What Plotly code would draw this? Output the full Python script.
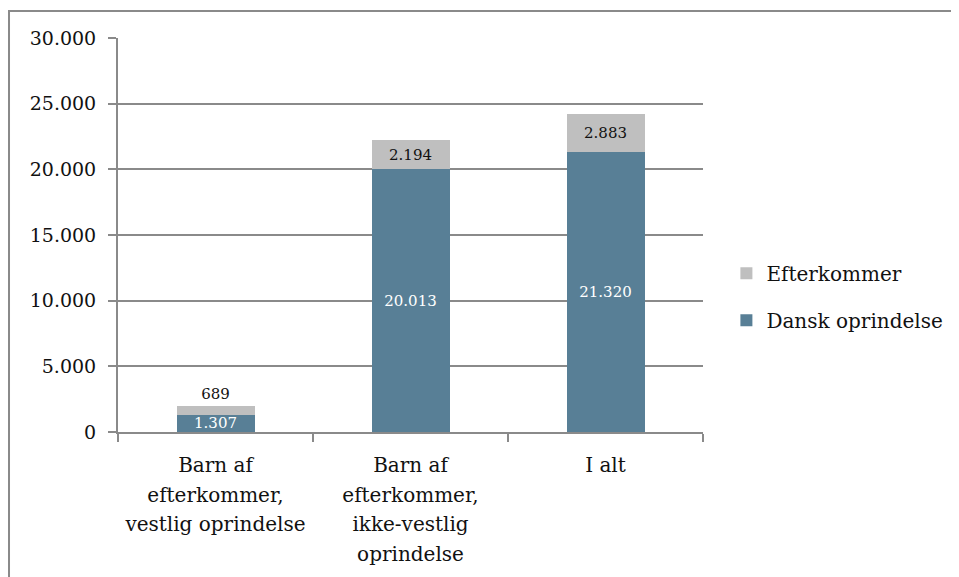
import plotly.graph_objects as go

categories = [
    "Barn af<br>efterkommer,<br>vestlig oprindelse",
    "Barn af<br>efterkommer,<br>ikke-vestlig<br>oprindelse",
    "I alt",
]
dansk = [1307, 20013, 21320]
efterkommer = [689, 2194, 2883]
y_ticks = [0, 5000, 10000, 15000, 20000, 25000, 30000]

BLUE = "#587f96"
GREY = "#bfbfbf"
FONT = "DejaVu Serif"


def small_lines(label, px=20):
    # keep glyphs small but let the (bigger) tick font set the line spacing
    return "<br>".join(f"<span style='font-size:{px}px'>{p}</span>" for p in label.split("<br>"))


fig = go.Figure()
fig.add_trace(go.Bar(
    x=categories, y=dansk, name="Dansk oprindelse",
    marker=dict(color=BLUE, line=dict(width=0)),
    texttemplate="%{y:,}", textposition="inside", insidetextanchor="middle",
    textfont=dict(color="white", size=15, family=FONT),
    legendgroup="a", legendrank=2,
))
fig.add_trace(go.Bar(
    x=categories, y=efterkommer, name="Efterkommer",
    marker=dict(color=GREY, line=dict(width=0)),
    texttemplate="%{y:,}", textposition=["outside", "inside", "inside"],
    insidetextanchor="middle",
    textfont=dict(color="#111111", size=15, family=FONT),
    legendgroup="b", legendrank=1,
))

# outer frame of the chart object (partly off-page like the original)
fig.add_shape(type="rect", xref="paper", yref="paper",
              x0=-0.1863, x1=1.6, y0=-0.6, y1=1.0685,
              line=dict(color="#8a8a8a", width=2), layer="below")

fig.update_layout(
    width=959, height=577,
    margin=dict(l=110, r=264, t=30, b=153),
    barmode="stack", bargap=0.6,
    separators=",.",
    font=dict(family=FONT, size=19, color="#111111"),
    plot_bgcolor="white", paper_bgcolor="white",
    uniformtext=dict(minsize=15, mode="show"),
    showlegend=True,
    legend=dict(x=1.04, y=0.343, yanchor="middle", xanchor="left",
                traceorder="grouped", tracegroupgap=18,
                font=dict(size=20, family=FONT), itemwidth=30),
)
fig.update_xaxes(
    tickvals=categories, ticktext=[small_lines(c) for c in categories],
    tickangle=0, automargin=False, ticklabelstandoff=10,
    showline=True, linecolor="#8a8a8a", linewidth=2,
    ticks="outside", tickson="boundaries", ticklen=8, tickcolor="#8a8a8a", tickwidth=2,
    tickfont=dict(size=23, family=FONT), showgrid=False,
)
fig.update_yaxes(
    range=[0, 30000], tickvals=y_ticks, tickformat=",", ticklabelstandoff=8,
    showline=True, linecolor="#8a8a8a", linewidth=2,
    ticks="outside", ticklen=8, tickcolor="#8a8a8a", tickwidth=2,
    showgrid=True, gridcolor="#8a8a8a", gridwidth=2,
    tickfont=dict(size=19, family=FONT), zeroline=False,
)

fig.write_html("out.html")
